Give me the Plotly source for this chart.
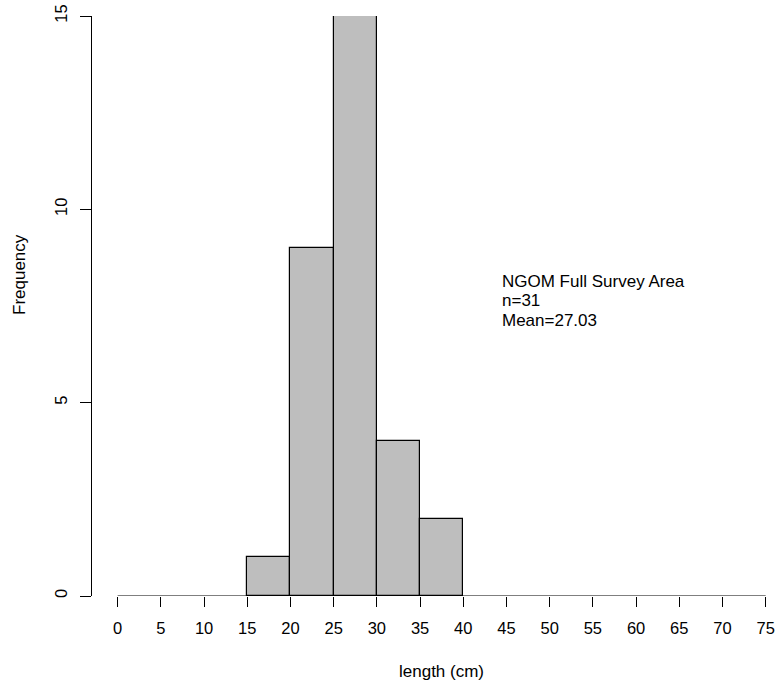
import plotly.graph_objects as go

# Histogram data (length in cm)
bin_left = [15, 20, 25, 30, 35]
bin_width = 5
counts = [1, 9, 15, 4, 2]
x_ticks = list(range(0, 80, 5))
y_ticks = [0, 5, 10, 15]
note_lines = ["NGOM Full Survey Area", "n=31", "Mean=27.03"]

centers = [b + bin_width / 2 for b in bin_left]

FONT = "Liberation Sans, Arial, sans-serif"

fig = go.Figure()
fig.add_trace(go.Bar(
    x=centers, y=counts, width=[bin_width] * len(counts),
    marker=dict(color="#BEBEBE", line=dict(color="#000000", width=1.2)),
    showlegend=False, hoverinfo="x+y",
))

# x axis line spanning only the tick range (R style)
fig.add_shape(type="line", xref="x", yref="y",
              x0=min(x_ticks), x1=max(x_ticks), y0=0, y1=0,
              line=dict(color="#000000", width=1.2), layer="above")

fig.update_layout(
    width=778, height=686,
    margin=dict(l=92, r=10, t=16, b=90, autoexpand=False),
    paper_bgcolor="white", plot_bgcolor="white",
    font=dict(family=FONT, size=16, color="#000000"),
    bargap=0,
    xaxis=dict(
        range=[-2.97, 75.27], tickmode="array", tickvals=x_ticks,
        ticktext=[str(v) for v in x_ticks],
        ticks="outside", ticklen=10, tickwidth=1.2, tickcolor="#000000",
        showline=False, showgrid=False, zeroline=False,
        tickfont=dict(size=16.5), automargin=False, ticklabelstandoff=7,
    ),
    yaxis=dict(
        range=[0, 15], tickmode="array", tickvals=y_ticks,
        ticktext=[str(v) for v in y_ticks],
        ticks="outside", ticklen=11, tickwidth=1.2, tickcolor="#000000",
        showline=True, linecolor="#000000", linewidth=1.2,
        showgrid=False, zeroline=False, tickangle=-90,
        tickfont=dict(size=16.5), automargin=False, ticklabelstandoff=6,
    ),
)

# Axis titles
fig.add_annotation(text="length (cm)", xref="paper", yref="paper",
                   x=(441.5 - 92) / 676, y=-(671 - 596) / 580,
                   xanchor="center", yanchor="middle", showarrow=False,
                   font=dict(size=17))
fig.add_annotation(text="Frequency", xref="paper", yref="paper",
                   x=-(92 - 20) / 676, y=(596 - 275) / 580,
                   xanchor="center", yanchor="middle", showarrow=False,
                   textangle=-90, font=dict(size=17))

# Text note
for i, line in enumerate(note_lines):
    fig.add_annotation(text=line, xref="x", yref="y",
                       x=44.2, y=(596 - (281 + 19.5 * i)) / 38.67,
                       xanchor="left", yanchor="middle", showarrow=False,
                       font=dict(size=17))

fig.write_html(
    "out.html",
    config={"displayModeBar": False},
    post_script="document.body.style.margin='0';document.body.style.padding='0';document.body.style.overflow='hidden';",
)
